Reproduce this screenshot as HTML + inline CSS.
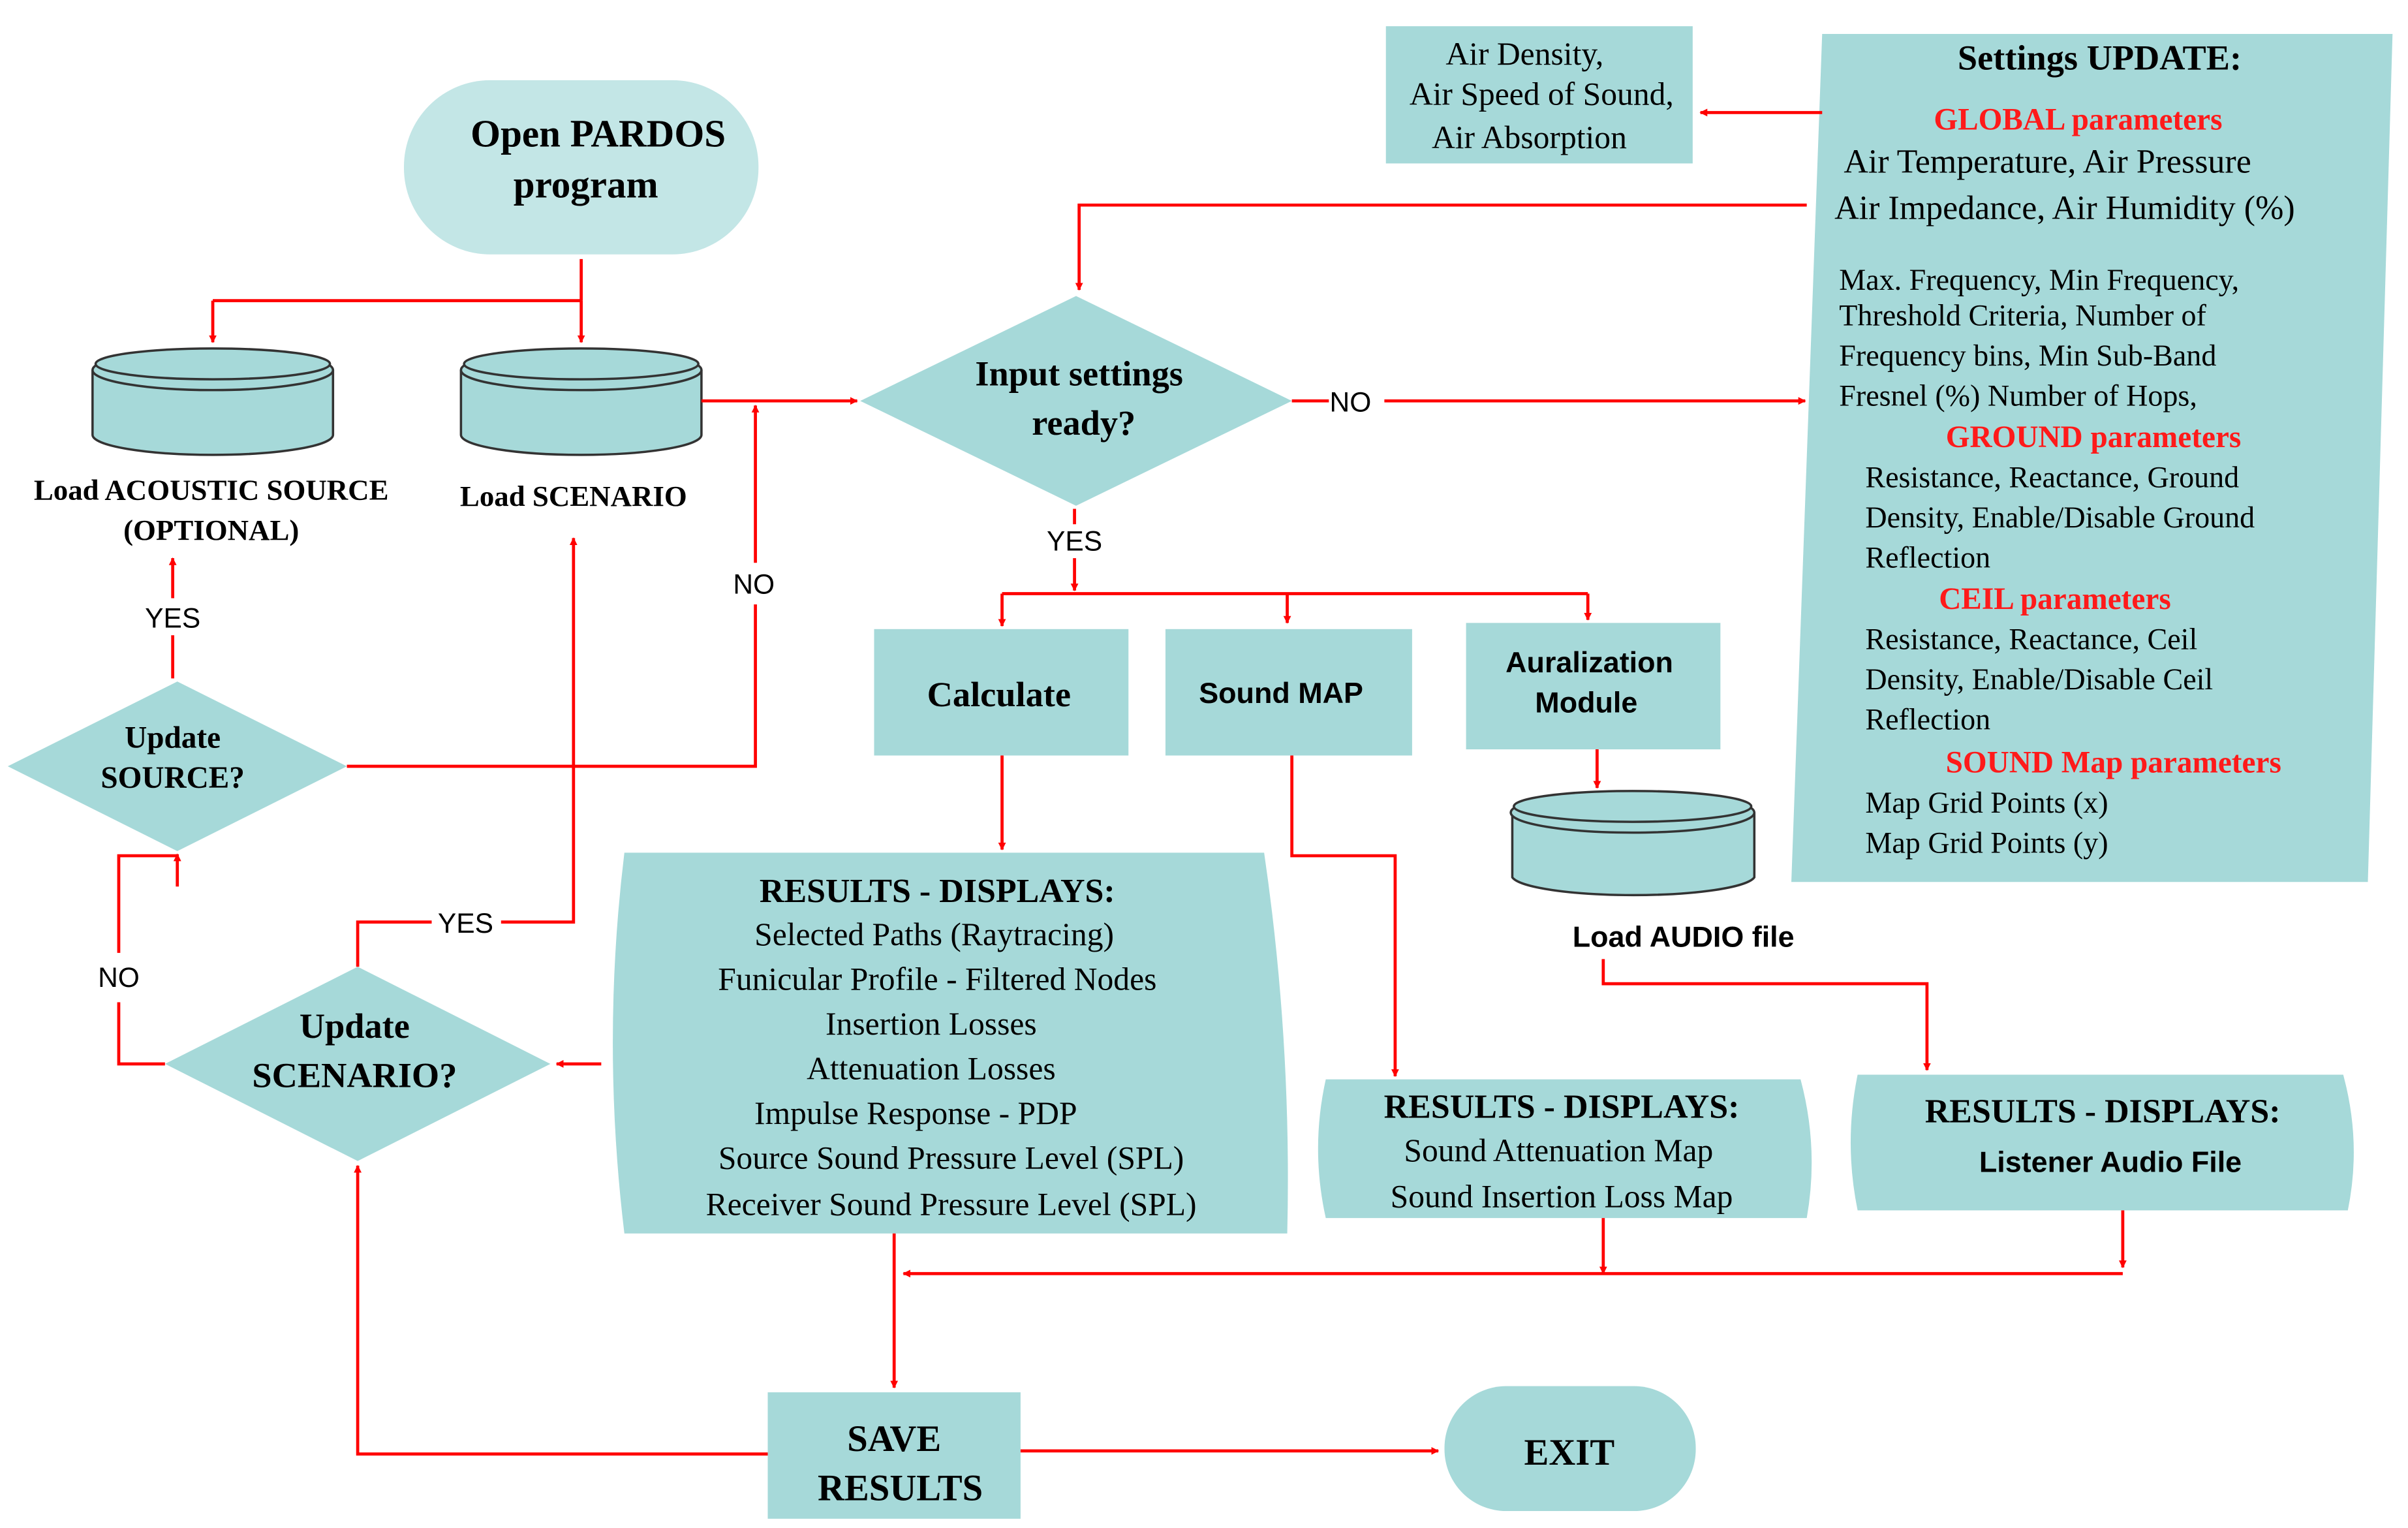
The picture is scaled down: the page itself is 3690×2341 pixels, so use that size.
<!DOCTYPE html>
<html><head><meta charset="utf-8"><style>
html,body{margin:0;padding:0;background:#fff}
svg{display:block}
</style></head><body>
<svg width="3690" height="2341" viewBox="0 0 1562 991" xmlns="http://www.w3.org/2000/svg">
<defs>
<marker id="a" viewBox="0 0 10 10" refX="9" refY="5" markerWidth="5" markerHeight="5" orient="auto-start-reverse" markerUnits="userSpaceOnUse"><path d="M0,0L10,5L0,10z" fill="#f00"/></marker>
</defs>
<rect width="1562" height="991" fill="#fff"/>
<g fill="#a6d9d9">
<rect x="262" y="52" width="230" height="113" rx="56" fill="#c3e6e6"/>
<rect x="899" y="17" width="199" height="89"/>
<path d="M1182,22L1552,22L1536,572L1162,572Z"/>
<path d="M558,260L698,192L838,260L698,328Z"/>
<rect x="567" y="408" width="165" height="82"/>
<rect x="756" y="408" width="160" height="82"/>
<rect x="951" y="404" width="165" height="82"/>
<path d="M405,553L820,553Q838,676 835,800L405,800Q390,676 405,553Z"/>
<path d="M860,700L1168,700Q1180,745 1172,790L860,790Q850,745 860,700Z"/>
<path d="M1205,697L1520,697Q1532,741 1523,785L1205,785Q1196,741 1205,697Z"/>
<rect x="498" y="903" width="164" height="82"/>
<rect x="937" y="899" width="163" height="81" rx="40"/>
<path d="M107,690L232,627L357,690L232,753Z"/>
<path d="M5,497L115,442L225,497L115,552Z"/>
</g>
<g fill="#a6d9d9" stroke="#333" stroke-width="1.5">
<path d="M60,240L60,282A78,13 0 0 0 216,282L216,240"/>
<ellipse cx="138" cy="240" rx="78" ry="13"/><ellipse cx="138" cy="236" rx="76" ry="10"/>
<path d="M299,240L299,282A78,13 0 0 0 455,282L455,240"/>
<ellipse cx="377" cy="240" rx="78" ry="13"/><ellipse cx="377" cy="236" rx="76" ry="10"/>
<path d="M981,527L981,569A79,13 0 0 0 1138,569L1138,527"/>
<ellipse cx="1059" cy="527" rx="79" ry="13"/><ellipse cx="1059" cy="523" rx="77" ry="10"/>
</g>
<g stroke="#f00" stroke-width="2" fill="none">
<path d="M377,168L377,195"/><path d="M138,195L377,195"/>
<path d="M138,195L138,222" marker-end="url(#a)"/><path d="M377,195L377,222" marker-end="url(#a)"/>
<path d="M455,260L556,260" marker-end="url(#a)"/>
<path d="M838,260L862,260"/><path d="M898,260L1171,260" marker-end="url(#a)"/>
<path d="M1172,133L700,133L700,188" marker-end="url(#a)"/>
<path d="M1182,73L1103,73" marker-end="url(#a)"/>
<path d="M697,330L697,340"/>
<path d="M697,362L697,383" marker-end="url(#a)"/>
<path d="M650,385L1030,385"/>
<path d="M650,385L650,406" marker-end="url(#a)"/><path d="M835,385L835,404" marker-end="url(#a)"/><path d="M1030,385L1030,402" marker-end="url(#a)"/>
<path d="M1036,486L1036,511" marker-end="url(#a)"/>
<path d="M1040,622L1040,638L1250,638L1250,694" marker-end="url(#a)"/>
<path d="M650,490L650,551" marker-end="url(#a)"/>
<path d="M838,490L838,555L905,555L905,698" marker-end="url(#a)"/>
<path d="M1040,790L1040,826" marker-end="url(#a)"/>
<path d="M1377,785L1377,822" marker-end="url(#a)"/>
<path d="M1377,826L586,826" marker-end="url(#a)"/>
<path d="M580,800L580,900" marker-end="url(#a)"/>
<path d="M662,941L933,941" marker-end="url(#a)"/>
<path d="M498,943L232,943L232,756" marker-end="url(#a)"/>
<path d="M390,690L361,690" marker-end="url(#a)"/>
<path d="M232,627L232,598L280,598"/><path d="M325,598L372,598L372,349" marker-end="url(#a)"/>
<path d="M107,690L77,690L77,650"/><path d="M77,618L77,555L115,555"/><path d="M115,575L115,554" marker-end="url(#a)"/>
<path d="M112,440L112,412"/><path d="M112,388L112,362" marker-end="url(#a)"/>
<path d="M225,497L490,497L490,392"/><path d="M490,365L490,263" marker-end="url(#a)"/>
</g>
<g font-family="'Liberation Serif', 'DejaVu Serif', serif" style="font-family:'Liberation Serif','DejaVu Serif',serif" fill="#000">
<g font-weight="bold" font-size="25" text-anchor="middle">
<text x="388" y="95">Open PARDOS</text><text x="380" y="128">program</text>
<text x="700" y="250" font-size="23">Input settings</text><text x="703" y="282" font-size="23">ready?</text>
<text x="648" y="458" font-size="23">Calculate</text>
<text x="230" y="673" font-size="23">Update</text><text x="230" y="705" font-size="23">SCENARIO?</text>
<text x="112" y="485" font-size="20">Update</text><text x="112" y="511" font-size="20">SOURCE?</text>
<text x="580" y="941" font-size="24">SAVE</text><text x="584" y="973" font-size="24">RESULTS</text>
<text x="1018" y="950" font-size="24">EXIT</text>
<text x="137" y="324" font-size="19">Load ACOUSTIC SOURCE</text><text x="137" y="350" font-size="19">(OPTIONAL)</text>
<text x="372" y="328" font-size="19">Load SCENARIO</text>
<text x="1362" y="45" font-size="23">Settings UPDATE:</text>
<text x="608" y="585" font-size="22">RESULTS - DISPLAYS:</text>
<text x="1013" y="725" font-size="22">RESULTS - DISPLAYS:</text>
<text x="1364" y="728" font-size="22">RESULTS - DISPLAYS:</text>
</g>
<g font-size="21" text-anchor="middle">
<text x="989" y="42">Air Density,</text><text x="1000" y="68">Air Speed of Sound,</text><text x="992" y="96">Air Absorption</text>
<text x="606" y="613">Selected Paths (Raytracing)</text>
<text x="608" y="642">Funicular Profile - Filtered Nodes</text>
<text x="604" y="671">Insertion Losses</text>
<text x="604" y="700">Attenuation Losses</text>
<text x="594" y="729">Impulse Response - PDP</text>
<text x="617" y="758">Source Sound Pressure Level (SPL)</text>
<text x="617" y="788">Receiver Sound Pressure Level (SPL)</text>
<text x="1011" y="753">Sound Attenuation Map</text>
<text x="1013" y="783">Sound Insertion Loss Map</text>
</g>
<g font-weight="bold" fill="#ff1a1a" font-size="20" text-anchor="middle">
<text x="1348" y="84">GLOBAL parameters</text>
<text x="1358" y="290">GROUND parameters</text>
<text x="1333" y="395">CEIL parameters</text>
<text x="1371" y="501">SOUND Map parameters</text>
</g>
<g font-size="22">
<text x="1196" y="112">Air Temperature, Air Pressure</text>
<text x="1190" y="142">Air Impedance, Air Humidity (%)</text>
</g>
<g font-size="19.5">
<text x="1193" y="188">Max. Frequency, Min Frequency,</text>
<text x="1193" y="211">Threshold Criteria,  Number of</text>
<text x="1193" y="237">Frequency bins,  Min Sub-Band</text>
<text x="1193" y="263">Fresnel (%) Number of Hops,</text>
<text x="1210" y="316">Resistance, Reactance, Ground</text>
<text x="1210" y="342">Density, Enable/Disable Ground</text>
<text x="1210" y="368">Reflection</text>
<text x="1210" y="421">Resistance, Reactance, Ceil</text>
<text x="1210" y="447">Density, Enable/Disable Ceil</text>
<text x="1210" y="473">Reflection</text>
<text x="1210" y="527">Map Grid Points (x)</text>
<text x="1210" y="553">Map Grid Points (y)</text>
</g>
</g>
<g font-family="'Liberation Sans', 'DejaVu Sans', sans-serif" style="font-family:'Liberation Sans','DejaVu Sans',sans-serif" fill="#000">
<g font-weight="bold" font-size="19" text-anchor="middle">
<text x="831" y="456">Sound MAP</text>
<text x="1031" y="436">Auralization</text><text x="1029" y="462">Module</text>
<text x="1092" y="614">Load AUDIO file</text>
<text x="1369" y="760">Listener Audio File</text>
</g>
<g font-size="18" text-anchor="middle">
<text x="876" y="267">NO</text><text x="697" y="357">YES</text>
<text x="489" y="385">NO</text><text x="112" y="407">YES</text>
<text x="302" y="605">YES</text><text x="77" y="640">NO</text>
</g>
</g>
</svg>
</body></html>
